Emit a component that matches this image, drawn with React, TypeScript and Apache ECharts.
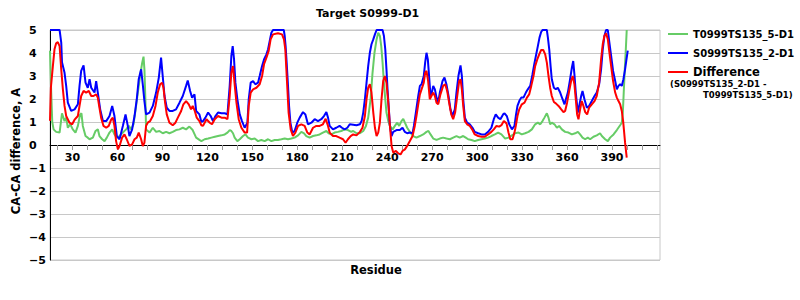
import React, { useEffect, useRef } from "react";
import * as echarts from "echarts";

const titleText = "Target S0999-D1";
const yAxisName = "CA-CA difference, A";
const xAxisName = "Residue";
const seriesNames = ["T0999TS135_5-D1", "S0999TS135_2-D1", "Difference"];
const diffNoteLine1 = "(S0999TS135_2-D1 -";
const diffNoteLine2 = "T0999TS135_5-D1)";

const xTickValues = [20, 30, 40, 50, 60, 70, 80, 90, 100, 110, 120, 130, 140, 150, 160, 170, 180, 190, 200, 210, 220, 230, 240, 250, 260, 270, 280, 290, 300, 310, 320, 330, 340, 350, 360, 370, 380, 390, 400, 410, 420];
const xLabelValues = [30, 60, 90, 120, 150, 180, 210, 240, 270, 300, 330, 360, 390];

// [residue, CA-CA difference]
const greenPoints = [
  [15, 4.1], [15.8, 2.3], [16.5, 1.0], [17.4, 0.68], [19.1, 0.57], [21.4, 0.54], [23, 1.38], [24.7, 1.04], [25.8, 1.19], [26.9, 0.75], [28.5, 0.9], [30.2, 0.68], [32, 0.54], [33.6, 0.83], [35.1, 1.33], [36, 1.38], [36.9, 0.83], [38.7, 0.39], [40.2, 0.32], [41.4, 0.25], [43.6, 0.32], [45.4, 0.61], [46.9, 0.68], [48, 0.39], [49.8, 0.25], [51.4, 0.17], [52.9, 0.32], [54.7, 0.54], [56.5, 0.68], [58, 0.46], [59.6, 0.32], [61.4, 0.39], [63.6, 0.54], [65.8, 0.68], [67.6, 0.83], [69.1, 0.68], [70.7, 0.9], [72, 1.48], [73.6, 2.28], [75.1, 3.0], [76.5, 3.57], [77.4, 3.84], [78, 3.29], [78.7, 1.84], [79.1, 0.68], [81.4, 0.54], [83.6, 0.75], [85.8, 0.57], [88, 0.61], [90.2, 0.51], [92.5, 0.57], [94.7, 0.51], [96.9, 0.57], [99.1, 0.65], [101.4, 0.68], [103.6, 0.75], [105.8, 0.68], [108, 0.8], [110.2, 0.65], [112.5, 0.32], [114.7, 0.22],
  [116, 0.17], [118.2, 0.25], [120.5, 0.28], [122.7, 0.32], [125, 0.36], [127.1, 0.39], [129.4, 0.42], [131.6, 0.46], [133.4, 0.54], [134.9, 0.65], [136, 0.61], [137.1, 0.51], [138.2, 0.32], [140, 0.17], [141.6, 0.25], [143.8, 0.39], [145.4, 0.46], [147.1, 0.32], [149.4, 0.25], [151.6, 0.28], [153.8, 0.17], [156, 0.22], [158.2, 0.17], [160.5, 0.25], [162.7, 0.17], [164.9, 0.22], [167.1, 0.22], [169.4, 0.25], [171.6, 0.28], [173.8, 0.25], [176, 0.28], [178.2, 0.32], [180.5, 0.42], [182.7, 0.57], [184.5, 0.51], [186, 0.39], [188.2, 0.32], [190.5, 0.39], [192.7, 0.42], [194.9, 0.46], [197.1, 0.54], [199.4, 0.61], [200.9, 0.51], [202.7, 0.46], [204.9, 0.54], [207.1, 0.57], [209.3, 0.61], [211.6, 0.68], [213.8, 0.65], [216, 0.57],
  [217.3, 0.61], [219.5, 0.51], [221.8, 0.51], [224, 0.61], [225.8, 0.83], [227.3, 1.19], [228.9, 1.99], [230.2, 3.14], [231.5, 4.01], [232.9, 4.59], [234, 4.88], [235.1, 4.74], [236, 4.3], [236.9, 3.58], [237.8, 2.71], [238.7, 1.99], [239.5, 1.41], [240.7, 1.04], [241.8, 0.83], [243.6, 0.68], [245.1, 0.83], [246.7, 0.97], [248, 0.83], [249.5, 1.04], [250.7, 1.14], [251.8, 0.97], [253.3, 0.75], [255.1, 0.57], [257.3, 0.39], [259.5, 0.32], [261.8, 0.39], [264, 0.46], [266.2, 0.57], [267.5, 0.61], [268.9, 0.46], [270.7, 0.28], [272.9, 0.22], [275.1, 0.28], [277.3, 0.32], [279.5, 0.28], [281.8, 0.25], [284, 0.32], [286.2, 0.39], [288.4, 0.32], [290.7, 0.39], [292.4, 0.32], [294, 0.25], [296.2, 0.22], [298.4, 0.17], [300.7, 0.22], [302.9, 0.25], [305.1, 0.28], [307.3, 0.32], [309.5, 0.39], [311.8, 0.46], [314, 0.54], [316.2, 0.46],
  [318.7, 0.28], [321, 0.32], [323.2, 0.42], [325.4, 0.51], [327.6, 0.54], [329.8, 0.46], [332, 0.51], [334.3, 0.57], [336.5, 0.68], [338.7, 0.9], [340.5, 0.97], [342.1, 0.9], [343.6, 1.04], [344.9, 1.19], [346.5, 1.38], [347.6, 1.19], [348.7, 0.9], [349.8, 0.97], [351.6, 0.9], [353.2, 0.75], [354.7, 0.83], [356.5, 0.68], [358.7, 0.57], [360.9, 0.54], [363.2, 0.46], [365.4, 0.51], [367.2, 0.57], [368.7, 0.46], [370.3, 0.32], [372.1, 0.25], [373.8, 0.32], [375.4, 0.25], [377.6, 0.36], [379.8, 0.42], [382, 0.51], [383.2, 0.39], [385.4, 0.25], [387.2, 0.17], [388.7, 0.32], [391, 0.46], [393.2, 0.65], [395.4, 0.86], [396.5, 0.97], [397.2, 1.41], [397.8, 2.28], [398.5, 3.29], [399.2, 4.16], [399.8, 5],
];

const bluePoints = [
  [15, 5], [21.4, 5], [22.5, 4.45], [23, 3.6], [24.7, 3.14], [25.8, 2.57], [26.9, 1.84], [29.1, 1.48], [31.4, 1.55], [33.6, 1.77], [34.7, 2.57], [35.8, 3.22], [37.4, 3.46], [38.7, 2.71], [40.2, 2.49], [41.4, 2.86], [42.5, 2.49], [44.7, 2.28], [45.8, 2.78], [46.9, 2.28], [48.5, 1.55], [50.3, 1.04], [52.5, 1.04], [54.7, 1.26], [56.5, 1.7], [58, 1.26], [59.6, 0.39], [61.4, 0.25], [63.6, 0.83], [65.4, 1.33], [66.9, 0.83], [68, 0.39], [69.8, 0.68], [71.4, 1.26], [72.9, 1.99], [74.2, 2.86], [75.8, 3.29], [76.9, 2.64], [78, 1.91], [79.1, 1.33], [81.4, 1.41], [83.6, 1.7], [85.8, 2.28], [87.6, 2.93], [89.1, 3.8], [90.2, 3.0], [91.4, 2.13], [92.9, 1.62], [94.7, 1.48], [96.9, 1.48], [99.1, 1.55], [101.4, 1.84], [103.6, 2.13], [105.8, 2.57], [106.9, 2.8], [108.5, 2.35], [109.8, 2.06], [111.4, 2.2], [112.5, 1.48], [114.7, 1.33],
  [116, 1.0], [117.1, 1.04], [118.7, 1.19], [120.5, 1.41], [122.2, 1.26], [123.8, 1.04], [125.4, 1.26], [127.1, 1.41], [129.4, 1.38], [131.6, 1.38], [133.4, 1.33], [134.9, 2.57], [136, 3.87], [136.9, 4.3], [137.8, 3.72], [138.7, 2.71], [140, 1.99], [141.6, 1.33], [143.1, 1.04], [144.9, 0.75], [146.7, 0.97], [147.6, 1.99], [148.9, 2.71], [150.5, 2.78], [152, 2.64], [153.8, 2.71], [154.9, 3.0], [156.5, 3.43], [157.8, 3.72], [159.4, 3.94], [160.5, 4.16], [161.6, 4.52], [162.7, 4.88], [163.8, 5], [171, 5], [171.6, 4.74], [172.2, 4.3], [172.9, 3.58], [173.8, 2.57], [174.5, 1.7], [175.4, 0.97], [176.7, 0.54], [178.2, 0.61], [180, 0.97], [181.6, 1.19], [183.8, 1.43], [185.4, 1.33], [187.1, 0.9], [189.4, 0.97], [191.6, 1.12], [193.8, 1.04], [196, 1.12], [197.8, 1.26], [199.4, 1.43], [200.5, 1.19], [201.6, 0.83], [203.8, 0.68], [206, 0.75], [208.2, 0.83], [209.8, 0.75], [211.6, 0.68], [213.4, 0.75], [215, 0.9],
  [217.3, 0.88], [219.5, 0.86], [221.8, 0.9], [222.9, 1.04], [224, 1.41], [225.1, 1.99], [226.2, 2.71], [227.3, 3.43], [228.4, 4.01], [229.5, 4.38], [230.7, 4.59], [231.8, 4.81], [232.9, 5], [236.9, 5], [237.8, 4.74], [238.7, 4.16], [239.5, 3.29], [240.2, 2.42], [241.1, 1.55], [241.8, 0.83], [242.9, 0.39], [244, 0.57], [246.2, 0.65], [248.4, 0.65], [250.2, 0.75], [251.8, 0.57], [253.3, 0.51], [255.1, 0.54], [256.9, 0.51], [257.8, 0.83], [259.1, 1.41], [260.7, 2.13], [261.8, 2.57], [262.9, 2.64], [264.4, 3.0], [265.3, 3.58], [266.2, 4.01], [267.1, 3.72], [268, 2.93], [268.9, 2.13], [269.8, 2.28], [270.7, 2.57], [271.8, 2.42], [272.9, 2.06], [274, 1.84], [275.1, 2.28], [276.9, 2.78], [278.2, 2.93], [279.5, 2.64], [280.9, 2.13], [282.2, 1.55], [283.5, 1.26], [285.1, 1.55], [286.2, 2.28], [287.5, 3.0], [288.9, 3.46], [289.8, 3.0], [290.7, 1.99], [291.8, 1.19], [293.3, 0.97], [295.1, 0.9], [296.9, 0.75], [298.4, 0.57], [300.7, 0.51], [302.9, 0.46], [305.1, 0.46], [307.3, 0.57], [309.5, 0.75], [311.1, 1.12], [312.4, 1.33], [314, 1.19], [315.5, 1.12], [317.3, 1.33],
  [318.3, 1.38], [319.8, 1.26], [321.4, 0.9], [323.2, 0.68], [324.9, 0.83], [325.8, 1.26], [326.9, 1.7], [328.1, 1.91], [329.4, 2.06], [330.9, 2.06], [332.5, 2.28], [333.8, 2.42], [335.4, 2.57], [336.9, 3.07], [338.3, 3.58], [339.4, 3.94], [340.5, 4.3], [341.6, 4.67], [342.7, 4.91], [343.6, 5], [346.5, 5], [347.2, 4.67], [348.1, 4.16], [349, 3.43], [349.8, 2.86], [351.2, 2.49], [352.5, 2.42], [353.8, 2.49], [355.4, 2.28], [357, 1.99], [358.3, 1.77], [359.2, 1.99], [360.5, 2.28], [361.8, 2.78], [363.2, 3.36], [364.1, 3.65], [364.9, 3.07], [365.8, 2.28], [367.2, 1.41], [368.1, 1.7], [369.4, 2.13], [370.3, 2.35], [371.6, 1.99], [373.2, 1.62], [374.7, 1.7], [376.5, 1.91], [378.3, 2.13], [379.8, 2.28], [381.4, 2.64], [382.7, 3.29], [383.8, 4.16], [384.9, 4.74], [386, 5], [387.2, 5], [388.1, 4.52], [389.4, 3.87], [390.7, 3.22], [392.1, 2.78], [393.2, 2.42], [394.3, 2.57], [395.4, 2.64], [396.5, 2.57], [397.6, 2.86], [398.7, 3.29], [399.8, 3.8], [400.5, 4.1],
];

const redPoints = [
  [15, 1.05], [15.6, 2.5], [16.9, 3.42], [18, 4.16], [19.1, 4.42], [20.2, 4.47], [21.4, 4.3], [22.5, 3.29], [23.6, 2.42], [24.7, 1.7], [25.8, 1.26], [28, 0.97], [29.8, 0.9], [31.4, 1.1], [33.6, 1.26], [34.7, 1.7], [35.8, 2.13], [37.4, 2.35], [39.1, 2.28], [40.9, 2.35], [42.5, 2.13], [44, 2.13], [45.8, 2.2], [46.9, 2.06], [48, 1.62], [49.1, 1.19], [50.7, 0.83], [52.5, 0.75], [54.2, 0.83], [55.8, 1.1], [56.9, 1.19], [58, 0.83], [59.1, 0.17], [60.3, -0.19], [61.4, -0.04], [63.1, 0.32], [64.7, 0.46], [66.2, 0.25], [68, -0.04], [69.8, 0.03], [71.4, 0.25], [72.9, 0.32], [74.2, 0.54], [75.8, 0.25], [76.9, -0.04], [78, 0.1], [79.1, 0.83], [80.2, 0.97], [81.8, 1.04], [83.6, 1.26], [85.4, 1.7], [86.9, 2.28], [88.5, 2.64], [89.8, 2.71], [90.7, 2.49], [91.8, 1.84], [92.9, 1.33], [94.7, 0.97], [96.9, 0.86], [98.7, 0.97], [100.3, 1.19], [102.5, 1.48], [104, 1.77], [105.8, 1.91], [107.6, 1.77], [109.1, 1.55], [110.2, 1.7], [111.6, 1.48], [112.9, 1.19], [114.7, 1.04],
  [116, 0.86], [117.1, 0.83], [119.4, 1.12], [121.6, 0.97], [123.1, 0.9], [124.9, 1.12], [127.1, 1.26], [129.4, 1.19], [131.6, 1.19], [133.4, 1.12], [134.9, 2.13], [136, 3.14], [137.1, 3.43], [138.2, 2.64], [139.4, 1.84], [140.9, 1.12], [142.7, 0.75], [144.9, 0.54], [146.5, 0.54], [147.6, 1.7], [148.9, 2.28], [150.5, 2.42], [152.7, 2.49], [154.9, 2.64], [156.5, 3.0], [157.8, 3.51], [159.4, 3.8], [160.9, 4.09], [162.2, 4.59], [163.8, 4.81], [167.1, 4.86], [169.8, 4.81], [171.1, 4.59], [172, 4.16], [172.7, 3.29], [173.4, 2.42], [174.2, 1.41], [175.6, 0.68], [177.1, 0.39], [178.7, 0.54], [180.5, 0.83], [182.7, 0.9], [184.9, 0.83], [186.7, 0.54], [188.2, 0.46], [190.5, 0.75], [192.7, 0.83], [194.9, 0.83], [197.1, 0.9], [198.9, 1.14], [200.5, 0.83], [201.6, 0.54], [203.8, 0.39], [206, 0.39], [208.2, 0.32], [210.5, 0.25], [212.2, 0.1], [213.8, 0.25], [215.6, 0.39],
  [217.3, 0.46], [219.5, 0.42], [221.8, 0.57], [223.5, 0.75], [225.1, 1.26], [226.2, 1.99], [227.3, 2.49], [228.4, 2.64], [229.5, 2.28], [230.7, 1.41], [231.8, 0.75], [232.9, 0.39], [234, 0.54], [235.1, 0.97], [236.2, 1.99], [237.3, 2.78], [238.4, 3.0], [239.5, 2.71], [240.7, 1.84], [241.8, 0.83], [242.9, -0.04], [244, -0.33], [245.8, -0.26], [247.3, -0.36], [248.9, -0.41], [250.2, -0.26], [251.8, -0.19], [253.3, -0.04], [255.1, 0.17], [256.9, 0.39], [258.4, 0.83], [259.5, 1.26], [260.7, 1.77], [261.8, 2.2], [262.9, 2.42], [264.4, 2.71], [265.3, 3.14], [266.2, 3.22], [267.3, 2.78], [268.4, 1.99], [269.5, 2.13], [270.7, 2.28], [271.8, 2.13], [272.9, 1.84], [274, 1.77], [275.5, 2.2], [277.3, 2.57], [278.7, 2.64], [280, 2.35], [281.3, 1.84], [282.7, 1.33], [284, 1.12], [285.3, 1.41], [286.7, 2.13], [288, 2.78], [288.9, 2.86], [289.8, 2.42], [290.7, 1.7], [291.8, 1.04], [293.3, 0.9], [295.1, 0.83], [296.9, 0.65], [298.4, 0.46], [300.7, 0.39], [302.9, 0.36], [305.1, 0.36], [307.3, 0.46], [309.5, 0.57], [311.1, 0.68], [312.9, 0.83], [314.7, 0.8], [316.2, 0.86], [317.8, 1.04],
  [319.6, 0.94], [320.9, 0.54], [322.1, 0.25], [323.6, 0.25], [324.9, 0.54], [325.8, 0.83], [326.9, 1.26], [328.1, 1.55], [329.8, 1.77], [331.6, 1.84], [333.2, 2.06], [334.7, 2.2], [336.1, 2.57], [337.6, 3.0], [338.7, 3.43], [340.1, 3.72], [341.4, 3.94], [342.7, 4.13], [344.1, 4.13], [345.4, 3.94], [346.5, 3.58], [347.6, 3.0], [348.7, 2.49], [349.8, 2.13], [351.2, 1.87], [352.5, 1.81], [354.3, 1.7], [356.1, 1.55], [357.6, 1.43], [358.7, 1.48], [360, 1.84], [361.4, 2.35], [362.7, 2.78], [363.8, 3.0], [364.9, 2.64], [365.8, 1.99], [366.7, 1.33], [367.6, 1.12], [368.7, 1.55], [369.8, 1.91], [370.9, 1.7], [372.1, 1.43], [373.4, 1.33], [374.7, 1.62], [376.5, 1.77], [378.3, 1.91], [379.8, 2.13], [381.4, 2.71], [382.7, 3.72], [383.8, 4.38], [384.9, 4.74], [386, 4.86], [387.2, 4.59], [388.1, 4.09], [389.4, 3.43], [390.7, 2.78], [392.1, 2.28], [393.2, 2.06], [394.3, 1.91], [395.4, 1.77], [396.5, 1.48], [397.4, 1.04], [398.1, 0.54], [398.7, 0.1], [399.2, -0.19], [399.8, -0.55],
];

const colors = ["#66cc66", "#0000ff", "#ff0000"];
const FONT = "DejaVu Sans";

export default function App() {
  const ref = useRef<HTMLDivElement>(null);

  useEffect(() => {
    if (!ref.current) return;
    const chart = echarts.init(ref.current, undefined, { renderer: "svg" });
    const pointSets = [greenPoints, bluePoints, redPoints];
    chart.setOption({
      animation: false,
      backgroundColor: "#ffffff",
      title: {
        text: titleText,
        left: 316,
        top: 8,
        padding: 0,
        textStyle: { fontFamily: FONT, fontWeight: "bold", fontSize: 11, color: "#000" },
      },
      legend: {
        orient: "vertical",
        left: 668,
        top: 27,
        padding: 0,
        itemWidth: 20,
        itemHeight: 2,
        itemGap: 5,
        icon: "rect",
        selectedMode: false,
        data: seriesNames,
        formatter: (name: string) => (name === "Difference" ? "{d|" + name + "}" : name),
        textStyle: {
          fontFamily: FONT,
          fontWeight: "bold",
          fontSize: 10,
          lineHeight: 14,
          color: "#000",
          rich: {
            d: { fontFamily: FONT, fontWeight: "bold", fontSize: 11.5, lineHeight: 14, color: "#000" },
          },
        },
      },
      grid: {
        left: 50,
        right: 140,
        top: 30,
        bottom: 40,
        show: true,
        borderColor: "#c8c8c8",
        borderWidth: 1,
      },
      xAxis: {
        type: "value",
        min: 15,
        max: 422,
        position: "bottom",
        offset: -115,
        axisLine: { show: true, onZero: false, lineStyle: { color: "#000", width: 1 } },
        axisTick: { show: true, length: 5, lineStyle: { color: "#999" }, customValues: xTickValues },
        axisLabel: {
          customValues: xLabelValues,
          fontFamily: FONT,
          fontWeight: "bold",
          fontSize: 11,
          color: "#000",
          margin: 7,
        },
        splitLine: { show: false },
      },
      yAxis: {
        type: "value",
        min: -5,
        max: 5,
        interval: 1,
        axisLine: { show: true, onZero: false, lineStyle: { color: "#000", width: 1 } },
        axisTick: { show: false },
        axisLabel: {
          align: "left",
          margin: 21,
          fontFamily: FONT,
          fontWeight: "bold",
          fontSize: 11,
          color: "#000",
          formatter: (v: number) => String(v).replace("-", "\u2212"),
        },
        splitLine: { show: true, lineStyle: { color: "#c8c8c8", width: 1 } },
      },
      graphic: [
        {
          type: "text",
          x: 15.5,
          y: 151,
          rotation: Math.PI / 2,
          style: {
            text: yAxisName,
            fontFamily: FONT,
            fontWeight: "bold",
            fontSize: 11.5,
            fill: "#000",
            textAlign: "center",
            textVerticalAlign: "middle",
          },
        },
        {
          type: "text",
          x: 376,
          y: 270,
          style: {
            text: xAxisName,
            fontFamily: FONT,
            fontWeight: "bold",
            fontSize: 11.5,
            fill: "#000",
            textAlign: "center",
            textVerticalAlign: "middle",
          },
        },
        {
          type: "text",
          x: 670,
          y: 84,
          style: {
            text: diffNoteLine1,
            fontFamily: FONT,
            fontWeight: "bold",
            fontSize: 8.5,
            fill: "#000",
            textAlign: "left",
            textVerticalAlign: "middle",
          },
        },
        {
          type: "text",
          x: 703,
          y: 95,
          style: {
            text: diffNoteLine2,
            fontFamily: FONT,
            fontWeight: "bold",
            fontSize: 8.5,
            fill: "#000",
            textAlign: "left",
            textVerticalAlign: "middle",
          },
        },
      ],
      series: seriesNames.map((name, i) => ({
        name,
        type: "line",
        data: pointSets[i],
        showSymbol: false,
        symbol: "none",
        clip: true,
        lineStyle: { color: colors[i], width: 2 },
        itemStyle: { color: colors[i] },
        z: 2 + i,
      })),
    });
    return () => chart.dispose();
  }, []);

  return (
    <div
      ref={ref}
      style={{ position: "fixed", left: 0, top: 0, width: 800, height: 300, background: "#fff" }}
    />
  );
}
